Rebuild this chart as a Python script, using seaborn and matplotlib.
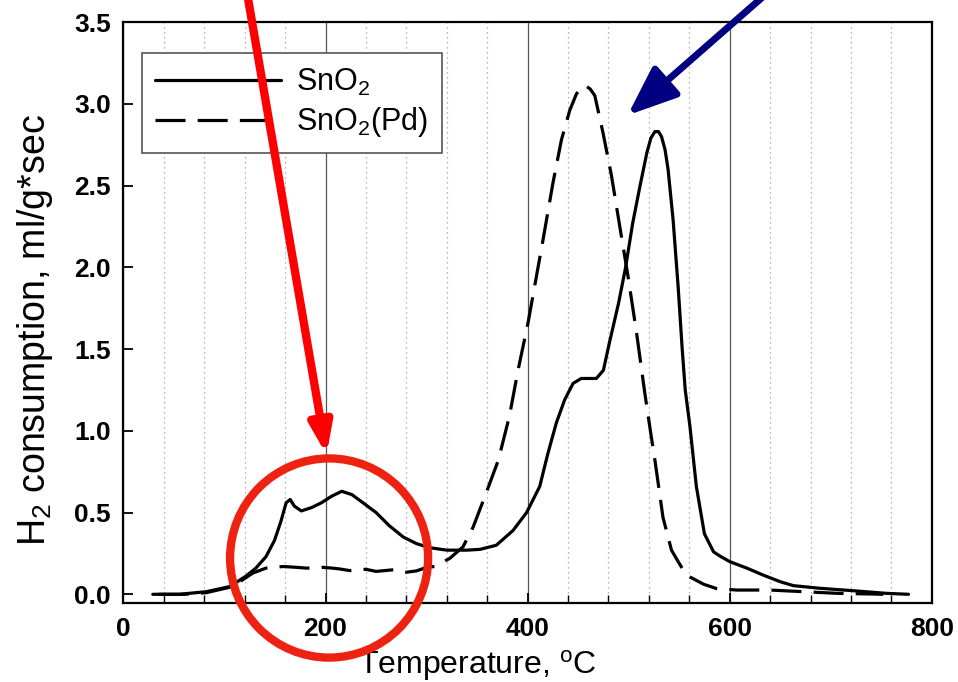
import numpy as np
import pandas as pd
import seaborn as sns
import matplotlib
matplotlib.use("Agg")
import matplotlib.pyplot as plt
from matplotlib.patches import Ellipse
from matplotlib.ticker import MultipleLocator, FormatStrFormatter
from matplotlib.lines import Line2D

# TPR profiles: temperature (degC) vs. H2 consumption (ml/g*sec)
sno2_T = [29, 55, 82, 105, 121, 131, 141, 149.5, 156, 161, 165, 169, 176, 186, 196,
          206, 216, 226, 237, 250, 263, 277, 290, 303, 320, 340, 353, 369, 385.5,
          399, 412, 420, 428.5, 436.7, 445, 453, 468, 475, 481, 490, 497, 504, 511,
          518, 522, 526, 529.5, 532.5, 536, 539, 544, 549, 553, 556, 560.6, 567, 575,
          584, 590, 600, 617, 633, 650, 663, 689, 722, 755, 777]
sno2_H = [0.0, 0.0, 0.016, 0.047, 0.11, 0.16, 0.23, 0.33, 0.45, 0.56, 0.58, 0.54, 0.51,
          0.53, 0.56, 0.60, 0.63, 0.61, 0.56, 0.50, 0.42, 0.35, 0.31, 0.285, 0.27,
          0.27, 0.275, 0.30, 0.39, 0.50, 0.66, 0.86, 1.05, 1.19, 1.29, 1.32, 1.32,
          1.37, 1.54, 1.78, 2.00, 2.27, 2.49, 2.70, 2.79, 2.83, 2.83, 2.80, 2.72,
          2.60, 2.29, 1.88, 1.50, 1.25, 1.03, 0.66, 0.37, 0.26, 0.235, 0.20, 0.16,
          0.118, 0.077, 0.053, 0.037, 0.022, 0.006, 0.0]

pd_T = [35, 60, 82, 108, 128, 141, 158, 171, 181, 197, 207, 214, 224, 240, 250, 267,
        280, 290, 300, 308, 323, 336, 346, 359, 371, 382, 390.5, 400.4, 415.3,
        425.2, 433.5, 441.7, 448.3, 453, 457.6, 462, 466.5, 474.7, 483, 491.2, 499.5,
        507.8, 516, 522, 526, 534, 542.4, 549, 557, 574, 587, 607, 640, 673, 706,
        739, 752]
pd_H = [0.0, 0.0, 0.01, 0.047, 0.13, 0.16, 0.17, 0.165, 0.16, 0.165, 0.16, 0.155,
        0.145, 0.153, 0.14, 0.15, 0.135, 0.143, 0.165, 0.17, 0.22, 0.29, 0.41, 0.62,
        0.82, 1.09, 1.37, 1.66, 2.17, 2.52, 2.78, 2.96, 3.06, 3.10, 3.11, 3.09, 3.05,
        2.82, 2.56, 2.25, 1.94, 1.60, 1.23, 0.98, 0.82, 0.47, 0.27, 0.20, 0.118,
        0.062, 0.035, 0.026, 0.026, 0.016, 0.006, 0.002, 0.0]

series_labels = ["SnO$_2$", "SnO$_2$(Pd)"]
x_ticks = [0, 200, 400, 600, 800]
y_ticks = [0.0, 0.5, 1.0, 1.5, 2.0, 2.5, 3.0, 3.5]

df = pd.concat([
    pd.DataFrame({"T": sno2_T, "H2": sno2_H, "sample": series_labels[0]}),
    pd.DataFrame({"T": pd_T, "H2": pd_H, "sample": series_labels[1]}),
], ignore_index=True)

sns.set_theme(style="ticks")
plt.rcParams["font.family"] = ["Liberation Sans", "DejaVu Sans"]
plt.rcParams["mathtext.default"] = "regular"
for key in ("text.color", "axes.labelcolor", "xtick.color", "ytick.color"):
    plt.rcParams[key] = "black"

fig = plt.figure(figsize=(9.58, 6.82), dpi=100)
ax = fig.add_axes([0.1289, 0.1154, 0.8437, 0.8523])

lw = 2.3
dash = (9.4, 3.8)
sns.lineplot(data=df, x="T", y="H2", style="sample", color="black",
             dashes={series_labels[0]: "", series_labels[1]: dash},
             linewidth=lw, errorbar=None, legend=False, ax=ax, zorder=3)

ax.set_xlim(0, 800)
ax.set_ylim(-0.055, 3.5)
ax.set_xticks(x_ticks)
ax.set_yticks(y_ticks)
ax.xaxis.set_minor_locator(MultipleLocator(40))
ax.yaxis.set_major_formatter(FormatStrFormatter("%.1f"))

# vertical grid: solid at major ticks, dotted at minor ticks
ax.grid(which="major", axis="x", color="#555555", linestyle="-", linewidth=0.9)
ax.grid(which="minor", axis="x", color="#9a9a9a", linestyle=(0, (1, 3)), linewidth=0.9)
ax.grid(which="both", axis="y", visible=False)

for s in ax.spines.values():
    s.set_linewidth(1.6)
    s.set_color("black")

ax.tick_params(axis="both", which="major", direction="in", length=7, width=1.3,
               labelsize=19, color="black")
ax.tick_params(axis="x", which="minor", direction="in", length=6, width=1.0)
ax.tick_params(axis="x", which="major", pad=10)
ax.tick_params(axis="y", which="major", pad=9)
for lbl in ax.get_xticklabels() + ax.get_yticklabels():
    lbl.set_fontweight("bold")

ax.set_xlabel("Temperature, $^{o}$C", fontsize=23)
ax.set_ylabel("H$_2$ consumption, ml/g*sec", fontsize=27)
ax.xaxis.set_label_coords(0.438, -0.077)
ax.xaxis.label.set_va("top")
ax.yaxis.set_label_coords(-0.085, 0.47)

handles = [Line2D([], [], color="black", lw=lw),
           Line2D([], [], color="black", lw=lw, dashes=dash)]
leg = ax.legend(handles, series_labels, loc="upper left",
                bbox_to_anchor=(0.0225, 0.947), borderaxespad=0, fontsize=22,
                frameon=True, fancybox=False, framealpha=1, edgecolor="#555555",
                handlelength=4.1, handletextpad=0.5, labelspacing=0.25,
                borderpad=0.45)
leg.get_frame().set_linewidth(1.2)

# highlighted region and pointer arrows
ring = Ellipse((203.5, 0.222), width=196, height=1.218, fill=False,
               edgecolor="#ee2211", linewidth=6, clip_on=False, zorder=6)
ax.add_patch(ring)
ax.annotate("", xy=(201, 0.853), xytext=(121.7, 3.7),
            arrowprops=dict(arrowstyle="-|>,head_length=0.9,head_width=0.33",
                            mutation_scale=20, color="#ff0000", lw=6,
                            shrinkA=0, shrinkB=0, clip_on=False),
            annotation_clip=False, zorder=7)
ax.annotate("", xy=(499, 2.93), xytext=(645, 3.72),
            arrowprops=dict(arrowstyle="-|>,head_length=1.5,head_width=0.6",
                            mutation_scale=20, color="#000080", lw=5,
                            shrinkA=0, shrinkB=0, clip_on=False),
            annotation_clip=False, zorder=7)

fig.savefig("out.png", dpi=100)
